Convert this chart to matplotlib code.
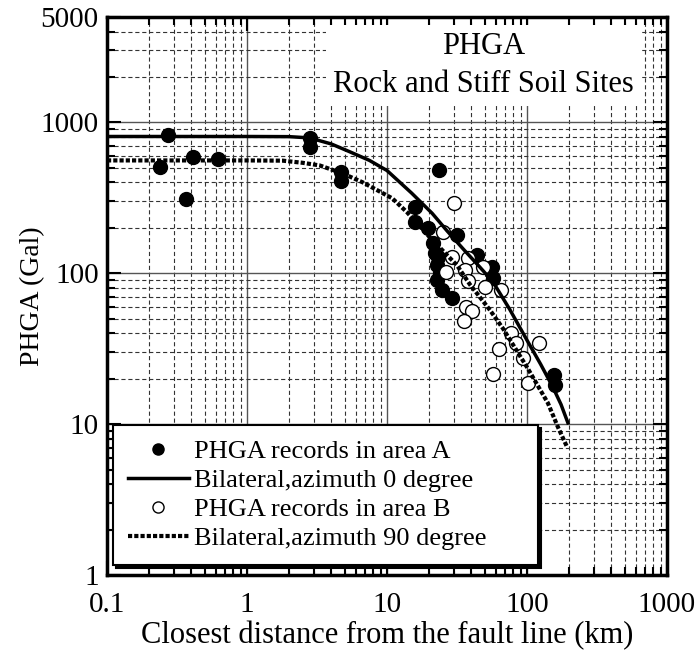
import matplotlib
matplotlib.use("Agg")
import matplotlib.pyplot as plt
from matplotlib.ticker import FixedLocator, FixedFormatter, LogLocator, NullFormatter

plt.rcParams['font.family'] = ['Liberation Serif', 'DejaVu Serif']
plt.rcParams['lines.scale_dashes'] = False

# PHGA records in area A (filled circles)
area_a_dist = [0.273, 0.239, 0.411, 0.366, 0.621, 2.82, 2.82, 4.69, 4.69,
               23.5, 15.8, 15.8, 19.6, 21.3, 21.9, 23.1, 22.7, 23.9, 22.7,
               24.7, 29.1, 31.6, 44.0, 56.2, 57.0, 156.0, 158.0]
area_a_phga = [820, 504, 587, 309, 569, 784, 683, 466, 410,
               481, 273, 218, 199, 160, 136, 128, 113, 100, 90,
               77, 69, 179, 132, 110, 93, 21.1, 18.1]

# PHGA records in area B (open circles)
area_b_dist = [30.1, 25.1, 29.1, 26.4, 37.9, 36.1, 37.9, 48.5, 50.1, 65.2,
               36.6, 40.5, 35.5, 76.9, 83.4, 122.0, 63.1, 93.6, 57.2, 102.0]
area_b_phga = [291, 187, 128, 102, 126, 105, 88.6, 110, 80.8, 77.2,
               59.6, 56.0, 48.1, 40.1, 34.4, 34.4, 31.4, 27.4, 21.4, 18.7]

# Bilateral, azimuth 0 degree
az0_dist = [0.1, 1, 2, 2.8, 4, 5.4, 7.5, 10, 15, 21, 27, 35, 46, 57, 75,
            100, 125, 153, 175, 196]
az0_phga = [807, 807, 805, 790, 720, 640, 560, 480, 340, 250, 190, 145, 110,
            88, 58, 36, 25, 17.6, 13.5, 10.2]

# Bilateral, azimuth 90 degree
az90_dist = [0.1, 1, 1.8, 2.5, 3.3, 4.8, 6.7, 10.9, 13.9, 20, 31.6, 39.2,
             44.7, 54.4, 67.4, 101, 141, 166, 194]
az90_phga = [560, 560, 558, 540, 519, 460, 401, 314, 254, 175, 113, 84,
             72, 57, 43, 23.5, 13.8, 9.6, 7.0]

x_ticks = [0.1, 1, 10, 100, 1000]
x_tick_labels = ['0.1', '1', '10', '100', '1000']
y_ticks = [1, 10, 100, 1000, 5000]
y_tick_labels = ['1', '10', '100', '1000', '5000']

fig = plt.figure(figsize=(6.97, 6.55), dpi=100)
ax = fig.add_axes([107 / 697, 80 / 655, 560 / 697, 558 / 655])
ax.set_xscale('log')
ax.set_yscale('log')
ax.set_xlim(0.1, 1000)
ax.set_ylim(1, 5000)

ax.xaxis.set_major_locator(FixedLocator(x_ticks))
ax.xaxis.set_major_formatter(FixedFormatter(x_tick_labels))
ax.xaxis.set_minor_locator(LogLocator(base=10, subs=range(2, 10)))
ax.xaxis.set_minor_formatter(NullFormatter())
ax.yaxis.set_major_locator(FixedLocator(y_ticks))
ax.yaxis.set_major_formatter(FixedFormatter(y_tick_labels))
ax.yaxis.set_minor_locator(LogLocator(base=10, subs=range(2, 10)))
ax.yaxis.set_minor_formatter(NullFormatter())

ax.grid(which='major', color='#555555', lw=1.0, ls='-')
ax.grid(which='minor', color='#333333', lw=0.8, ls=(0, (3, 2)))
ax.set_axisbelow(True)

ax.tick_params(which='both', direction='in', top=True, right=True, width=1.5)
ax.tick_params(which='major', length=10, labelsize=21)
ax.tick_params(axis='x', which='major', pad=12)
ax.tick_params(axis='y', which='major', pad=6)
ax.tick_params(which='minor', length=6)
for sp in ax.spines.values():
    sp.set_linewidth(2.5)

h_a, = ax.plot(area_a_dist, area_a_phga, 'o', ms=10, mfc='black', mec='black', zorder=3)
h_b, = ax.plot(area_b_dist, area_b_phga, 'o', ms=10, mfc='white', mec='black', mew=1, zorder=4)
h_0, = ax.plot(az0_dist, az0_phga, '-', color='black', lw=2.5, zorder=5)
h_90, = ax.plot(az90_dist, az90_phga, color='black', lw=3, ls=(0, (3, 1.5)), zorder=5)

ax.text(49, 2384, 'PHGA\nRock and Stiff Soil Sites', ha='center', va='center',
        fontsize=22, linespacing=1.4, zorder=6,
        bbox=dict(facecolor='white', edgecolor='none', pad=5))

leg = ax.legend([h_a, h_0, h_b, h_90],
                ['PHGA records in area A', 'Bilateral,azimuth 0 degree',
                 'PHGA records in area B', 'Bilateral,azimuth 90 degree'],
                loc='lower left', bbox_to_anchor=(0.011, 0.018, 0.759, 0.25),
                mode='expand', fontsize=19, frameon=True, fancybox=False,
                shadow={'color': 'black', 'alpha': 1}, framealpha=1,
                edgecolor='black', borderaxespad=0, borderpad=0.56,
                labelspacing=0.21, handlelength=2.3, handletextpad=0.2,
                markerscale=0.8)
leg.get_frame().set_linewidth(1.5)
leg.set_zorder(10)

ax.set_xlabel('Closest distance from the fault line (km)', fontsize=22, labelpad=2)
ax.set_ylabel('PHGA (Gal)', fontsize=20)
ax.yaxis.set_label_coords(-0.11, 0.5)

fig.savefig('out.png', dpi=100)
